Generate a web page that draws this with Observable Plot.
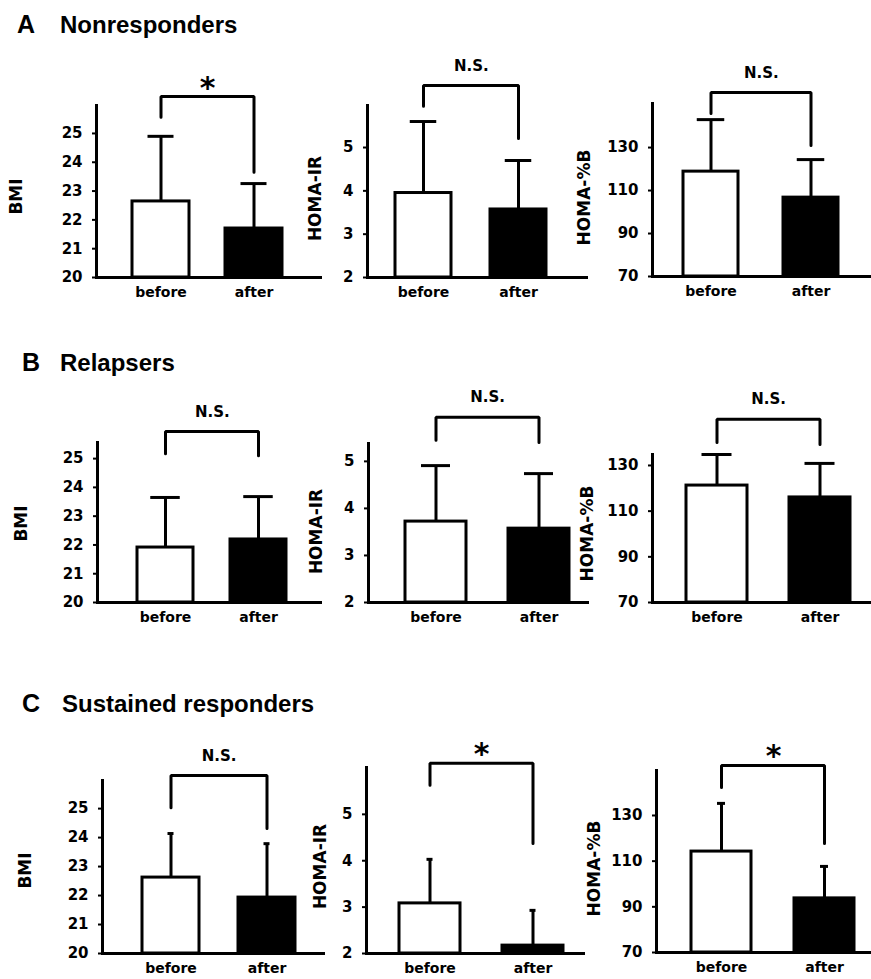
<!DOCTYPE html>
<html><head><meta charset="utf-8">
<script src="https://cdn.jsdelivr.net/npm/d3@7"></script>
<script src="https://cdn.jsdelivr.net/npm/@observablehq/plot@0.6"></script>
<style>
body{margin:0;background:#fff}
#fig{position:relative;width:871px;height:979px;overflow:hidden;background:#fff}
.t{position:absolute;font-family:"Liberation Sans",Arial,sans-serif;font-weight:bold;font-size:24px;line-height:1;white-space:nowrap;color:#000}
.t.l{font-size:25px}
.panel{position:absolute}
</style></head><body><div id="fig"></div>
<script>
// ---------- data ----------
const groups = ["Nonresponders", "Relapsers", "Sustained responders"];
const groupLetters = ["A", "B", "C"];
const measures = ["BMI", "HOMA-IR", "HOMA-%B"];
const phases = ["before", "after"];
const measureMin = [20, 2, 70];
const measureTicks = [[20, 21, 22, 23, 24, 25], [2, 3, 4, 5], [70, 90, 110, 130]];
// [group A, B, C] -> [before, after]
const bmiMean = [[22.64, 21.70], [21.91, 22.19], [22.62, 21.93]];
const bmiSD   = [[2.26, 1.56], [1.74, 1.49], [1.52, 1.86]];
const irMean  = [[3.95, 3.57], [3.72, 3.57], [3.08, 2.17]];
const irSD    = [[1.65, 1.13], [1.19, 1.17], [0.95, 0.76]];
const hbMean  = [[118.8, 106.7], [121.2, 116.0], [114.2, 93.7]];
const hbSD    = [[24.2, 17.7], [13.6, 14.9], [21.1, 14.0]];
// axis extent (top of drawn y axis) per group
const bmiAxisMax = [25.97, 25.56, 25.97];
const irAxisMax  = [5.97, 5.38, 6.01];
const hbAxisMax  = [150.5, 134.8, 149.7];
// significance brackets: [top, left leg end, right leg end]
const bmiBracket = [[26.28, 25.56, 23.65], [25.94, 25.17, 25.10], [26.14, 25.03, 24.31]];
const irBracket  = [[6.43, 5.95, 5.21], [5.94, 5.45, 5.40], [6.10, 5.63, 4.37]];
const hbBracket  = [[155.6, 145.8, 130.9], [150.2, 140.1, 139.2], [151.9, 142.3, 117.7]];
const significance = [["*", "N.S.", "N.S."], ["N.S.", "N.S.", "N.S."], ["N.S.", "*", "*"]];

const means = [bmiMean, irMean, hbMean];
const sds = [bmiSD, irSD, hbSD];
const axisMax = [bmiAxisMax, irAxisMax, hbAxisMax];
const brackets = [bmiBracket, irBracket, hbBracket];

// ---------- layout (page pixels) ----------
const rowTop = [40, 375, 728], rowBottom = [320, 642, 979];
const colLeft = [0, 298, 572], colRight = [330, 592, 871];
const titleY = [13, 351, 692];
const letterX = [17, 22, 22], nameX = [60, 60, 62];
// per panel: axisX, endX, topY, baseY, barL, barR, barW, cap, labelX, labelY
const layout = [
  [ {axisX:96, endX:320, topY:105, baseY:277, barL:132, barR:282, barW:57, cap:26, labelX:16, labelY:196},
    {axisX:367, endX:586, topY:105, baseY:277, barL:395, barR:547, barW:56.5, cap:27, labelX:315, labelY:198},
    {axisX:652, endX:871, topY:103, baseY:276, barL:683, barR:839, barW:55.5, cap:28, labelX:584, labelY:197} ],
  [ {axisX:97, endX:320, topY:442, baseY:602, barL:137, barR:287, barW:56.5, cap:30, labelX:21.5, labelY:523},
    {axisX:368, endX:587, topY:443, baseY:602, barL:405, barR:569, barW:61, cap:29, labelX:316.5, labelY:531},
    {axisX:652, endX:871, topY:454, baseY:602, barL:686, barR:850, barW:61, cap:30, labelX:587, labelY:533} ],
  [ {axisX:102, endX:323, topY:780, baseY:953, barL:142, barR:295, barW:57, cap:6, labelX:25, labelY:870},
    {axisX:366, endX:583, topY:767, baseY:953, barL:399, barR:563, barW:61, cap:6, labelX:320, labelY:866},
    {axisX:656, endX:871, topY:770, baseY:952, barL:690, barR:855, barW:61, cap:9, labelX:594, labelY:868} ]
];

const fig = document.getElementById("fig");

groups.forEach((g, r) => {
  const a = document.createElement("div");
  a.className = "t l"; a.textContent = groupLetters[r];
  a.style.left = letterX[r] + "px"; a.style.top = (titleY[r] - 1) + "px";
  fig.appendChild(a);
  const n = document.createElement("div");
  n.className = "t"; n.textContent = g;
  n.style.left = nameX[r] + "px"; n.style.top = titleY[r] + "px";
  fig.appendChild(n);

  measures.forEach((m, c) => {
    const L = layout[r][c];
    const left = colLeft[c], top = rowTop[r];
    const width = colRight[c] - left, height = rowBottom[r] - top;
    const min = measureMin[c];
    const data = phases.map((p, i) => ({phase: p, mean: means[c][r][i], upper: means[c][r][i] + sds[c][r][i]}));
    const br = brackets[c][r];
    const bracketPts = [
      {phase: "before", y: br[1]}, {phase: "before", y: br[0]},
      {phase: "after", y: br[0]}, {phase: "after", y: br[2]}
    ];
    const sig = significance[r][c];
    const step = L.barR - L.barL - L.barW;
    const inset = (L.barW - L.cap) / 2;
    const frameMidY = (L.topY + L.baseY) / 2;
    const chart = Plot.plot({
      width, height,
      marginLeft: L.axisX - left,
      marginRight: left + width - L.endX,
      marginTop: L.topY - top,
      marginBottom: top + height - L.baseY,
      style: {background: "transparent", overflow: "visible", fontFamily: "'DejaVu Sans', sans-serif", fontWeight: "bold", fontSize: "15px", color: "black"},
      x: {type: "band", domain: phases, range: [L.barL - left, L.barR - left], paddingInner: 1 - L.barW / step, paddingOuter: 0, align: 0.5},
      y: {domain: [min, axisMax[c][r]]},
      color: {domain: phases, range: ["white", "black"]},
      marks: [
        Plot.ruleX(data, {x: "phase", y1: "mean", y2: "upper", stroke: "black", strokeWidth: 3}),
        Plot.tickY(data, {x: "phase", y: "upper", stroke: "black", strokeWidth: 3, insetLeft: inset, insetRight: inset}),
        Plot.barY(data, {x: "phase", y1: min, y2: "mean", fill: "phase", stroke: "black", strokeWidth: 3}),
        Plot.line(bracketPts, {x: "phase", y: "y", stroke: "black", strokeWidth: 3, strokeLinejoin: "miter"}),
        Plot.text([{phase: "before", y: br[0], label: sig}], {
          x: "phase", y: "y", text: "label", dx: step / 2,
          dy: sig === "*" ? 1 : -15, lineAnchor: "bottom",
          fontSize: sig === "*" ? 30 : 15, fontWeight: "bold", fill: "black"
        }),
        Plot.frame({anchor: "left", stroke: "black", strokeWidth: 3}),
        Plot.frame({anchor: "bottom", stroke: "black", strokeWidth: 3}),
        Plot.axisY({ticks: measureTicks[c], tickSize: 4, tickPadding: 10, tickFormat: d => String(d), label: null, fontSize: 15, fontWeight: "bold", stroke: "black", strokeWidth: 2, fill: "black"}),
        Plot.axisX({tickSize: 0, tickPadding: 10, label: null, fontSize: 14, fontWeight: "bold", fill: "black"}),
        Plot.text([m], {frameAnchor: "left", rotate: -90, textAnchor: "middle", lineAnchor: "middle",
          dx: L.labelX - L.axisX, dy: L.labelY - frameMidY, fontSize: 17, fontWeight: "bold", fill: "black"})
      ]
    });
    chart.classList.add("panel");
    chart.style.left = left + "px";
    chart.style.top = top + "px";
    fig.appendChild(chart);
  });
});
</script></body></html>
